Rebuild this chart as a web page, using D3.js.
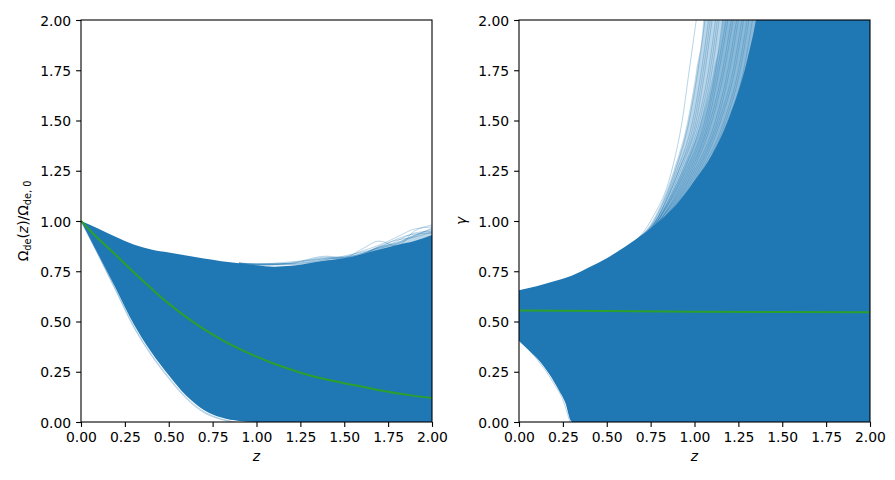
<!DOCTYPE html>
<html>
<head>
<meta charset="utf-8">
<script src="https://cdn.jsdelivr.net/npm/d3@7"></script>
<style>
body { margin: 0; background: #fff; }
text { font-family: "DejaVu Sans", sans-serif; fill: #000; }
</style>
</head>
<body>
<svg id="chart" width="895" height="480"></svg>
<script>
// ---- data ----
var TICKS = [0, 0.25, 0.5, 0.75, 1.0, 1.25, 1.5, 1.75, 2.0];

// left panel: Omega_de(z)/Omega_de,0
var omegaTop = [[0,1.0],[0.1,0.962],[0.2,0.92],[0.3,0.883],[0.4,0.858],[0.5,0.843],[0.6,0.828],
    [0.7,0.813],[0.8,0.80],[0.9,0.79],[1.0,0.78],[1.1,0.773],[1.2,0.777],[1.3,0.79],[1.4,0.803],
    [1.5,0.815],[1.6,0.835],[1.7,0.858],[1.8,0.88],[1.9,0.90],[2.0,0.93]];
var omegaBottom = [[0,1.0],[0.1,0.831],[0.2,0.662],[0.3,0.487],[0.4,0.348],[0.5,0.232],[0.6,0.13],
    [0.7,0.06],[0.8,0.022],[0.9,0.005],[1.0,0],[2.0,0]];
var omegaBest = [[0,1.0],[0.1,0.91],[0.2,0.83],[0.3,0.745],[0.4,0.665],[0.5,0.589],[0.6,0.522],
    [0.7,0.462],[0.8,0.41],[0.9,0.365],[1.0,0.325],[1.1,0.29],[1.2,0.26],[1.3,0.233],[1.4,0.211],
    [1.5,0.193],[1.6,0.177],[1.7,0.158],[1.8,0.143],[1.9,0.13],[2.0,0.119]];
// faint haze above the upper edge
var omegaHaze = [[[0.9,0.79],[1.0,0.782],[1.2,0.787],[1.4,0.812],[1.55,0.825],[1.7,0.875],
    [1.8,0.895],[1.9,0.93],[2.0,0.955]]];
// stray samples along the upper edge (z grid below)
var omegaStrayZ = [0.9, 1.0, 1.2, 1.4, 1.5, 1.6, 1.7, 1.8, 1.9, 2.0];
var omegaStray = [
    [0.791,0.787,0.787,0.815,0.822,0.835,0.87,0.89,0.93,0.96],
    [0.790,0.782,0.792,0.825,0.818,0.86,0.90,0.875,0.95,0.98],
    [0.791,0.786,0.797,0.812,0.82,0.85,0.88,0.92,0.96,0.97],
    [0.790,0.781,0.782,0.80,0.815,0.84,0.86,0.90,0.94,0.95],
    [0.791,0.784,0.79,0.82,0.81,0.83,0.875,0.905,0.92,0.945],
    [0.790,0.783,0.785,0.808,0.826,0.845,0.865,0.885,0.925,0.965],
    [0.790,0.780,0.789,0.816,0.817,0.838,0.868,0.91,0.935,0.94]
];
var omegaStrayLow = [
    [[0,1.0],[0.1,0.829],[0.2,0.655],[0.3,0.478],[0.4,0.338],[0.5,0.222],[0.6,0.122],[0.7,0.052],[0.8,0.015],[0.88,0]],
    [[0,1.0],[0.1,0.828],[0.2,0.65],[0.3,0.472],[0.4,0.332],[0.5,0.216],[0.6,0.116],[0.7,0.047],[0.8,0.012],[0.86,0]]
];

// right panel: gamma
var gammaTop = [[0,0.655],[0.1,0.675],[0.2,0.70],[0.3,0.728],[0.4,0.77],[0.5,0.815],[0.6,0.87],
    [0.7,0.93],[0.8,1.0],[0.9,1.085],[1.0,1.2],[1.1,1.33],[1.2,1.52],[1.3,1.8],[1.35,2.0],[1.4,2.3],[2.0,2.3]];
var gammaBottom = [[0,0.403],[0.057,0.356],[0.114,0.306],[0.171,0.24],[0.228,0.157],[0.266,0.091],
    [0.294,0.0075],[0.304,0],[2.0,0]];
var gammaBest = [[0,0.555],[0.5,0.552],[1.0,0.549],[1.5,0.547],[2.0,0.546]];
// faint haze left of the steep edge, outer and inner: [z, gamma]
var gammaHaze = [
    [[0.56,0.85],[0.76,1.0],[0.88,1.25],[0.96,1.5],[1.01,1.75],[1.05,2.0],[1.06,2.3]],
    [[0.68,0.92],[0.80,1.03],[0.93,1.25],[1.04,1.5],[1.11,1.75],[1.16,2.0],[1.17,2.3]]
];
// stray samples leaving the band: z where each reaches the gamma levels below
var gammaStrayLevels = [0.85, 1.0, 1.25, 1.5, 1.75, 2.0];
var gammaStray = [
    [0.58, 0.75, 0.87, 0.93, 0.97, 1.01],
    [0.59, 0.77, 0.89, 0.97, 1.02, 1.06],
    [0.59, 0.78, 0.90, 0.99, 1.04, 1.08],
    [0.59, 0.78, 0.91, 1.00, 1.05, 1.09],
    [0.59, 0.78, 0.91, 1.01, 1.06, 1.10],
    [0.59, 0.79, 0.92, 1.02, 1.08, 1.12],
    [0.59, 0.79, 0.93, 1.03, 1.09, 1.13],
    [0.59, 0.79, 0.94, 1.04, 1.10, 1.14],
    [0.59, 0.79, 0.95, 1.06, 1.12, 1.16],
    [0.59, 0.80, 0.96, 1.07, 1.13, 1.18],
    [0.59, 0.80, 0.97, 1.08, 1.14, 1.19],
    [0.59, 0.80, 0.98, 1.09, 1.16, 1.21],
    [0.59, 0.80, 0.99, 1.10, 1.17, 1.22],
    [0.59, 0.81, 1.00, 1.12, 1.19, 1.24],
    [0.59, 0.81, 1.01, 1.13, 1.20, 1.25],
    [0.59, 0.81, 1.02, 1.14, 1.22, 1.27],
    [0.59, 0.81, 1.03, 1.15, 1.23, 1.28],
    [0.59, 0.81, 1.04, 1.17, 1.25, 1.30],
    [0.59, 0.81, 1.05, 1.18, 1.26, 1.31],
    [0.59, 0.81, 1.06, 1.19, 1.28, 1.33]
];
var gammaStrayLow = [[0,0.41],[0.1,0.315],[0.2,0.19],[0.25,0.11],[0.29,0]];

var BLUE = "#1f77b4", GREEN = "#2ca02c";
var FONT = 13.9;
var AX_TOP = 20, AX_BOTTOM = 422, AX_W = 351;

var svg = d3.select("#chart");

function buildPanel(left, id, band, best, strays, ylabel) {
    var x = d3.scaleLinear().domain([0, 2]).range([left, left + AX_W]);
    var y = d3.scaleLinear().domain([0, 2]).range([AX_BOTTOM, AX_TOP]);

    svg.append("clipPath").attr("id", id)
        .append("rect")
        .attr("x", left).attr("y", AX_TOP)
        .attr("width", AX_W).attr("height", AX_BOTTOM - AX_TOP);

    var g = svg.append("g").attr("clip-path", "url(#" + id + ")");
    var line = d3.line()
        .x(function(d) { return x(d[0]); })
        .y(function(d) { return y(d[1]); })
        .curve(d3.curveMonotoneX);
    var straight = d3.line()
        .x(function(d) { return x(d[0]); })
        .y(function(d) { return y(d[1]); });

    // haze: edge then closed off to the right
    band.haze.forEach(function(h) {
        var close = [[2, h[h.length - 1][1]], [2, h[0][1]]];
        var p = line(h) + straight(close).replace(/^M/, "L") + "Z";
        g.append("path").attr("d", p).attr("fill", BLUE).attr("fill-opacity", 0.3);
    });

    // band = upper edge then lower edge walked back
    var lower = band.bottom.slice().reverse();
    var path = line(band.top) + line(lower).replace(/^M/, "L") + "Z";
    g.append("path").attr("d", path).attr("fill", BLUE).attr("stroke", "none");

    strays.forEach(function(s) {
        g.append("path")
            .attr("d", line(s))
            .attr("fill", "none")
            .attr("stroke", BLUE)
            .attr("stroke-width", 0.8)
            .attr("stroke-opacity", 0.4);
    });

    g.append("path")
        .attr("d", line(best))
        .attr("fill", "none")
        .attr("stroke", GREEN)
        .attr("stroke-width", 2);

    var fmt = d3.format(".2f");
    var xa = svg.append("g")
        .attr("transform", "translate(0," + AX_BOTTOM + ")")
        .call(d3.axisBottom(x).tickValues(TICKS).tickFormat(fmt)
            .tickSize(4.9).tickPadding(4.9).tickSizeOuter(0));
    var ya = svg.append("g")
        .attr("transform", "translate(" + left + ",0)")
        .call(d3.axisLeft(y).tickValues(TICKS).tickFormat(fmt)
            .tickSize(4.9).tickPadding(4.9).tickSizeOuter(0));
    [xa, ya].forEach(function(a) {
        a.select(".domain").remove();
        a.selectAll("line").attr("stroke", "#000").attr("stroke-width", 1.1);
        a.selectAll("text").attr("font-size", FONT).attr("font-family", "DejaVu Sans").attr("fill", "#000");
    });
    ya.selectAll("text").attr("dy", "0.36em");

    svg.append("rect")
        .attr("x", left).attr("y", AX_TOP)
        .attr("width", AX_W).attr("height", AX_BOTTOM - AX_TOP)
        .attr("fill", "none").attr("stroke", "#000").attr("stroke-width", 1.1);

    svg.append("text")
        .attr("x", left + AX_W / 2).attr("y", 461)
        .attr("text-anchor", "middle")
        .attr("font-size", FONT).attr("font-style", "italic")
        .text("z");

    ylabel(left - 53, (AX_TOP + AX_BOTTOM) / 2);
}

buildPanel(81, "clipL",
    { top: omegaTop, bottom: omegaBottom, haze: omegaHaze },
    omegaBest,
    omegaStray.map(function(row) {
        return row.map(function(v, i) { return [omegaStrayZ[i], v]; });
    }).concat(omegaStrayLow),
    function(bx, cy) {
        var t = svg.append("text")
            .attr("transform", "translate(" + bx + "," + cy + ") rotate(-90)")
            .attr("text-anchor", "middle")
            .attr("font-size", FONT);
        t.append("tspan").text("\u03A9");
        t.append("tspan").attr("font-size", FONT * 0.7).attr("dy", 2.5).text("de");
        t.append("tspan").attr("dy", -2.5).text("(");
        t.append("tspan").attr("font-style", "italic").text("z");
        t.append("tspan").text(")/\u03A9");
        t.append("tspan").attr("font-size", FONT * 0.7).attr("dy", 2.5).text("de, 0");
    });

buildPanel(519, "clipR",
    { top: gammaTop, bottom: gammaBottom, haze: gammaHaze },
    gammaBest,
    gammaStray.map(function(row) {
        return row.map(function(zv, i) { return [zv, gammaStrayLevels[i]]; });
    }).concat([gammaStrayLow]),
    function(bx, cy) {
        svg.append("text")
            .attr("transform", "translate(" + bx + "," + cy + ") rotate(-90)")
            .attr("text-anchor", "middle")
            .attr("font-size", FONT).attr("font-style", "italic")
            .text("\u03B3");
    });
</script>
</body>
</html>
